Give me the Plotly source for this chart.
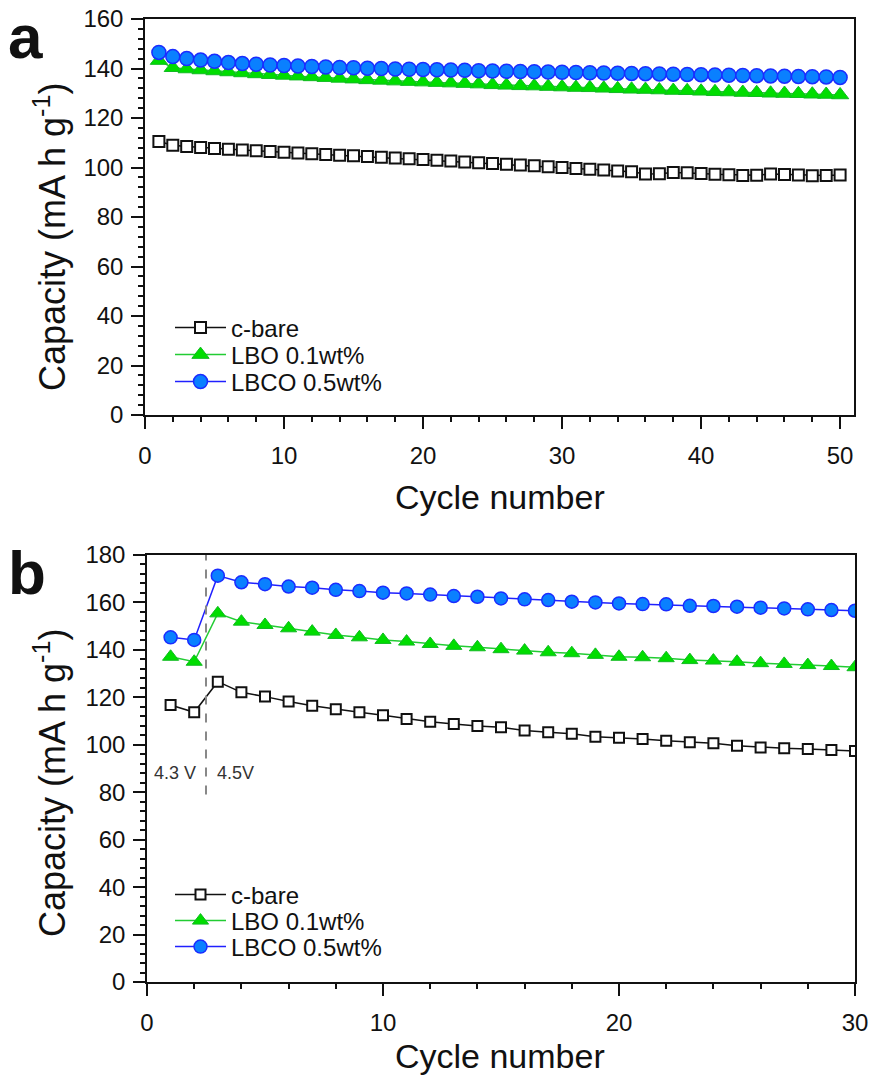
import plotly.graph_objects as go

# ---- panel (a): capacity retention, 50 cycles ----
cycles_a = list(range(1, 51))
bare_a = [110.5, 109.0, 108.5, 108.1, 107.7, 107.4, 107.1, 106.8, 106.5, 106.2,
          105.9, 105.6, 105.3, 105.0, 104.7, 104.4, 104.1, 103.8, 103.5, 103.2,
          102.9, 102.6, 102.2, 101.9, 101.6, 101.3, 101.0, 100.7, 100.3, 100.0,
          99.6, 99.3, 99.0, 98.6, 98.3, 97.4, 97.5, 98.0, 97.9, 97.6,
          97.3, 97.1, 96.8, 96.9, 97.4, 97.2, 97.0, 96.7, 96.8, 97.0]
lbo_a = [143.2, 140.3, 139.8, 139.4, 139.0, 138.6, 138.2, 137.8, 137.5, 137.2,
         136.9, 136.6, 136.3, 136.0, 135.7, 135.4, 135.2, 134.9, 134.7, 134.5,
         134.3, 134.1, 133.9, 133.7, 133.4, 133.2, 133.0, 132.9, 132.7, 132.5,
         132.3, 132.2, 132.0, 131.8, 131.6, 131.5, 131.3, 131.1, 131.0, 130.8,
         130.6, 130.5, 130.3, 130.2, 130.0, 129.9, 129.8, 129.6, 129.5, 129.3]
lbco_a = [146.5, 144.8, 144.0, 143.4, 142.9, 142.4, 142.0, 141.7, 141.4, 141.2,
          141.0, 140.8, 140.6, 140.4, 140.3, 140.1, 140.0, 139.8, 139.7, 139.6,
          139.5, 139.4, 139.3, 139.1, 139.0, 138.9, 138.8, 138.7, 138.6, 138.5,
          138.4, 138.3, 138.2, 138.1, 138.0, 137.9, 137.8, 137.7, 137.6, 137.5,
          137.4, 137.3, 137.2, 137.1, 137.0, 136.9, 136.8, 136.7, 136.6, 136.4]

# ---- panel (b): 4.3 V for two cycles, then 4.5 V ----
cycles_b = list(range(1, 31))
bare_b = [116.8, 113.7, 126.6, 122.1, 120.3, 118.2, 116.5, 115.0, 113.7, 112.4,
          110.9, 109.7, 108.8, 107.9, 107.4, 106.0, 105.3, 104.6, 103.4, 103.0,
          102.4, 101.7, 101.1, 100.6, 99.6, 98.9, 98.5, 98.2, 97.8, 97.4]
lbo_b = [137.1, 135.0, 155.4, 151.9, 150.5, 149.1, 147.7, 146.3, 145.3, 144.2,
         143.5, 142.5, 141.7, 141.1, 140.3, 139.7, 139.0, 138.6, 137.9, 137.1,
         136.9, 136.5, 135.7, 135.5, 135.0, 134.4, 134.1, 133.6, 133.2, 132.7]
lbco_b = [145.3, 144.2, 171.3, 168.5, 167.7, 166.7, 166.2, 165.3, 164.8, 164.1,
          163.8, 163.3, 162.7, 162.4, 161.7, 161.3, 161.0, 160.3, 160.0, 159.6,
          159.3, 159.2, 158.6, 158.5, 158.2, 157.8, 157.5, 157.1, 156.8, 156.5]

voltage_switch = 2.5
series_names = ["c-bare", "LBO 0.1wt%", "LBCO 0.5wt%"]

FONT = "Liberation Sans, Arial, sans-serif"
INK = "#111111"
W, H = 870, 1081

styles = [
    dict(line=dict(color=INK, width=1.5),
         marker=dict(symbol="square", color="white", size=11,
                     line=dict(color=INK, width=2))),
    dict(line=dict(color="#22cc33", width=1.5),
         marker=dict(symbol="triangle-up", color="#00dd00", size=15,
                     line=dict(color="#11bb22", width=1))),
    dict(line=dict(color="#2020ff", width=1.5),
         marker=dict(symbol="circle", color="#0a80ff", size=14,
                     line=dict(color="#1a2cff", width=1.5))),
]

# one single-entry legend per series so each row sits at its own height
legend_rows_a = [328, 355, 382]
legend_rows_b = [895, 921, 947]

fig = go.Figure()

for i, (name, ys, st) in enumerate(zip(series_names, [bare_a, lbo_a, lbco_a], styles)):
    fig.add_trace(go.Scatter(x=cycles_a, y=ys, name=name, mode="lines+markers",
                             xaxis="x", yaxis="y",
                             legend="legend" if i == 0 else f"legend{i + 1}", **st))

for i, (name, ys, st) in enumerate(zip(series_names, [bare_b, lbo_b, lbco_b], styles)):
    st_b = dict(line=st["line"], marker=dict(st["marker"]))
    st_b["marker"]["size"] = st["marker"]["size"] - 1
    fig.add_trace(go.Scatter(x=cycles_b, y=ys, name=name, mode="lines+markers",
                             xaxis="x2", yaxis="y2", legend=f"legend{i + 4}", **st_b))

axis_common = dict(
    showline=True, linecolor=INK, linewidth=1.5, mirror=True,
    ticks="outside", ticklen=12, tickwidth=1.5, tickcolor=INK,
    showgrid=False, zeroline=False, automargin=False,
    tickfont=dict(family=FONT, size=24, color=INK),
)
minor_x = dict(dtick=2, ticklen=5, tickwidth=1.5, ticks="outside", tickcolor=INK)
minor_y = dict(dtick=4, ticklen=5, tickwidth=1.5, ticks="outside", tickcolor=INK)

legend_common = dict(xanchor="left", yanchor="middle", bgcolor="rgba(0,0,0,0)",
                     itemwidth=51, font=dict(family=FONT, size=24, color=INK),
                     borderwidth=0)
legends = {}
for k, yc in enumerate(legend_rows_a + legend_rows_b):
    key = "legend" if k == 0 else f"legend{k + 1}"
    legends[key] = dict(legend_common, x=170 / W, y=1 - yc / H)

fig.update_layout(
    width=W, height=H,
    margin=dict(l=0, r=0, t=0, b=0),
    paper_bgcolor="white", plot_bgcolor="white",
    font=dict(family=FONT, color=INK),
    xaxis=dict(domain=[145 / W, 854 / W], range=[0, 51], anchor="y",
               tickvals=[0, 10, 20, 30, 40, 50], minor=minor_x,
               ticklabelstandoff=6, **axis_common),
    yaxis=dict(domain=[1 - 415 / H, 1 - 19 / H], range=[0, 160], anchor="x",
               dtick=20, minor=minor_y, ticklabelstandoff=3, **axis_common),
    xaxis2=dict(domain=[147 / W, 855 / W], range=[0, 30], anchor="y2",
                dtick=10, minor=minor_x, ticklabelstandoff=6, **axis_common),
    yaxis2=dict(domain=[1 - 982 / H, 1 - 555 / H], range=[0, 180], anchor="x2",
                dtick=20, minor=minor_y, ticklabelstandoff=3, **axis_common),
    showlegend=True,
    **legends,
)

# axis titles
title_font = dict(family=FONT, size=34, color=INK)
ytitle_font = dict(family=FONT, size=36, color=INK)
for yc in (497, 1056):
    fig.add_annotation(x=500 / W, y=1 - yc / H, xref="paper", yref="paper",
                       text="Cycle number", showarrow=False,
                       xanchor="center", yanchor="middle", font=title_font)
for yc in (237, 783):
    fig.add_annotation(x=50 / W, y=1 - yc / H, xref="paper", yref="paper",
                       text="Capacity (mA h g<sup>-1</sup>)", showarrow=False,
                       textangle=-90, xanchor="center", yanchor="middle",
                       font=ytitle_font)

# voltage-window divider in panel (b)
fig.add_shape(type="line", xref="x2", yref="y2",
              x0=voltage_switch, x1=voltage_switch, y0=79, y1=180,
              line=dict(color="#888888", width=2, dash="dash"))
fig.add_annotation(x=voltage_switch, y=88, xref="x2", yref="y2", text="4.3 V",
                   showarrow=False, xanchor="right", xshift=-8,
                   font=dict(family=FONT, size=18, color="#333333"))
fig.add_annotation(x=voltage_switch, y=88, xref="x2", yref="y2", text="4.5V",
                   showarrow=False, xanchor="left", xshift=9,
                   font=dict(family=FONT, size=18, color="#333333"))

# panel letters
fig.add_annotation(x=6 / W, y=1.0, xref="paper", yref="paper", text="<b>a</b>",
                   showarrow=False, xanchor="left", yanchor="top",
                   font=dict(family=FONT, size=62, color=INK))
fig.add_annotation(x=6 / W, y=0.502, xref="paper", yref="paper", text="<b>b</b>",
                   showarrow=False, xanchor="left", yanchor="top", yshift=2,
                   font=dict(family=FONT, size=62, color=INK))

fig.write_html("out.html")
